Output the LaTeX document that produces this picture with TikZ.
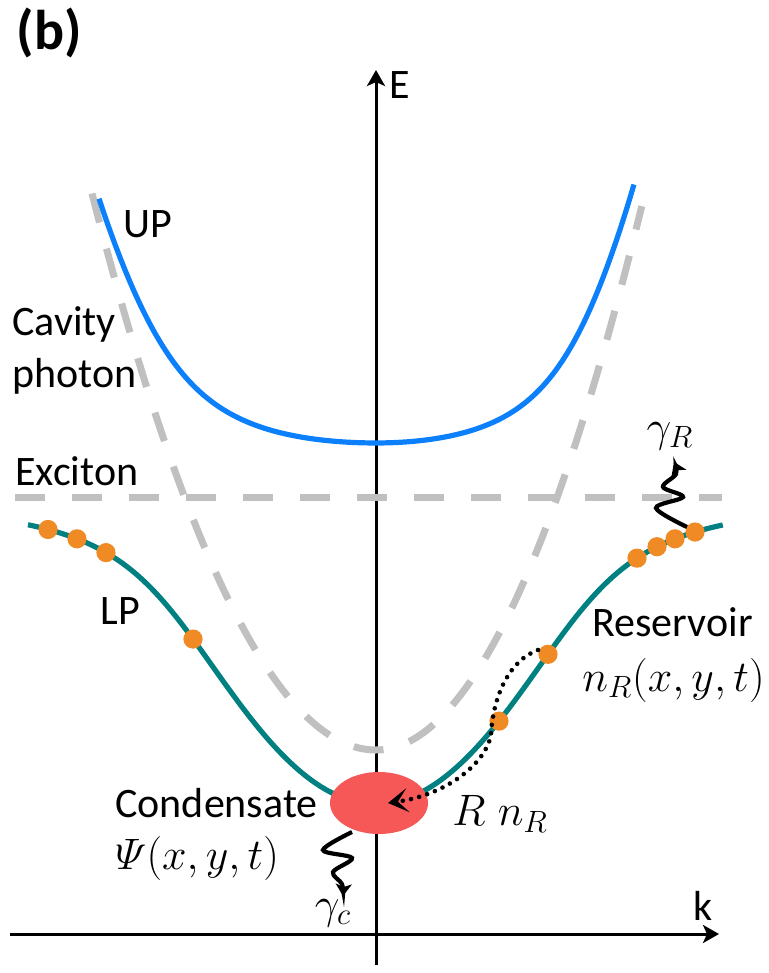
\RequirePackage{fix-cm}
\documentclass[tikz,border=0pt]{standalone}
\usepackage{amsmath}
\usepackage[no-math]{fontspec}
\setmainfont{Carlito}
\usetikzlibrary{arrows.meta,shapes.geometric}
\definecolor{upblue}{RGB}{12,128,250}
\definecolor{lpteal}{RGB}{0,128,128}
\definecolor{dashgray}{RGB}{192,192,192}
\definecolor{dotorange}{RGB}{240,138,36}
\definecolor{condred}{RGB}{246,88,88}
\begin{document}
\begin{tikzpicture}[x=50pt,y=-50pt,
  declare function={
    cav(\k)=7.5-ifthenelse(\k<0,0.69,0.77)*(\k)*(\k);
    cl(\k)=7.5-0.68*(\k)*(\k);
    lh(\k)=(cl(\k)-4.97)/2;
    lp(\k)=(cl(\k)+4.97)/2+sqrt(lh(\k)*lh(\k)+1.659);
    cu(\k)=7.5-ifthenelse(\k<0,0.646,0.77)*(\k)*(\k);
    uh(\k)=(cu(\k)-4.97)/2;
    up(\k)=(cu(\k)+4.97)/2-sqrt(uh(\k)*uh(\k)+1.659);
  },
  lbl/.style={font=\fontsize{21}{26}\selectfont, inner sep=0pt},
  mlbl/.style={font=\fontsize{22}{26}\selectfont, inner sep=0pt},
  axisline/.style={line width=1.5pt, -{Stealth[length=8pt,width=9pt,inset=2pt]}},
  dashline/.style={dashgray, line width=3.5pt, dash pattern=on 15pt off 13.5pt},
  upline/.style={upblue, line width=2.6pt},
  lpline/.style={lpteal, line width=2.6pt},
  dotc/.style={fill=dotorange},
  dotline/.style={line width=2.3pt, dash pattern=on 0pt off 4.2pt, line cap=round,
     -{Stealth[length=10pt,width=12pt,inset=5pt]}},
  wig/.style={line width=2.1pt, -{Stealth[length=6pt,width=8pt,inset=1.5pt]}},
]
\useasboundingbox (0,0) rectangle (7.69,9.73);

% axes
\coordinate (Ebot) at (3.76,9.65);
\coordinate (Etop) at (3.76,0.70);
\coordinate (kleft) at (0.10,9.34);
\coordinate (kright) at (7.19,9.34);
\draw[axisline] (Ebot) -- (Etop);
\draw[axisline] (kleft) -- (kright);

% exciton line
\draw[dashline] (0.15,4.97) -- (7.22,4.97);
% cavity photon
\draw[dashline] plot[domain=-2.84:2.66,samples=160] ({\x+3.76},{cav(\x)});
% upper polariton
\draw[upline] plot[domain=-2.77:2.58,samples=160] ({\x+3.76},{up(\x)});
% lower polariton
\draw[lpline] plot[domain=-3.48:3.47,samples=200] ({\x+3.76},{lp(\x)});

% reservoir particles
\foreach \xx in {0.48,0.77,1.06,1.93,4.99,5.48,6.37,6.57,6.75,6.95}
  \fill[dotc] ({\xx},{lp(\xx-3.76)}) circle[radius=4.8pt];

% condensate
\node[ellipse, fill=condred, minimum width=49pt, minimum height=31pt, inner sep=0pt] (cond) at (3.79,8.03) {};

% relaxation arrow
\coordinate (rstart) at (5.38,6.50);
\draw[dotline] (rstart) .. controls (5.10,6.60) and (4.93,6.95) .. (4.91,7.35)
   .. controls (4.85,7.65) and (4.45,7.95) .. ([xshift=4.5pt]cond.center);

% decay wiggles
\coordinate (wRs) at (6.87,5.27);
\draw[wig] plot[smooth,tension=0.55] coordinates {(wRs) (6.56,5.08) (6.83,4.97) (6.63,4.87) (6.76,4.74) (6.74,4.62)};
\coordinate (wCs) at (3.52,8.32);
\draw[wig] plot[smooth,tension=0.55] coordinates {(wCs) (3.23,8.50) (3.52,8.58) (3.33,8.72) (3.42,8.84) (3.43,8.96)};

% labels
\node[font=\fontsize{28}{30}\selectfont\bfseries, inner sep=0pt] (b) at (0.49,0.33) {(b)};
\node[lbl] (Elab) at (4.00,0.85) {E};
\node[lbl] (klab) at (7.03,9.06) {k};
\node[lbl, anchor=west] (UP) at (1.23,2.24) {UP};
\node[lbl, anchor=west, align=left] (cavlab) at (0.12,3.50) {Cavity\\photon};
\node[lbl, anchor=west] (exlab) at (0.15,4.71) {Exciton};
\node[lbl, anchor=west] (LP) at (1.00,6.11) {LP};
\node[lbl, anchor=west] (condlab) at (1.15,8.03) {Condensate};
\node[mlbl, anchor=west] (psilab) at (1.15,8.58) {$\varPsi(x,y,t)$};
\node[lbl, anchor=west] (reslab) at (5.92,6.22) {Reservoir};
\node[mlbl, anchor=east] (nrlab) at (7.65,6.80) {$n_R(x,y,t)$};
\node[mlbl, anchor=west] (Rlab) at (4.52,8.14) {$R\;n_R$};
\node[mlbl] (gR) at (6.70,4.36) {$\gamma_R$};
\node[mlbl] (gc) at (3.33,9.13) {$\gamma_c$};
\end{tikzpicture}
\end{document}
